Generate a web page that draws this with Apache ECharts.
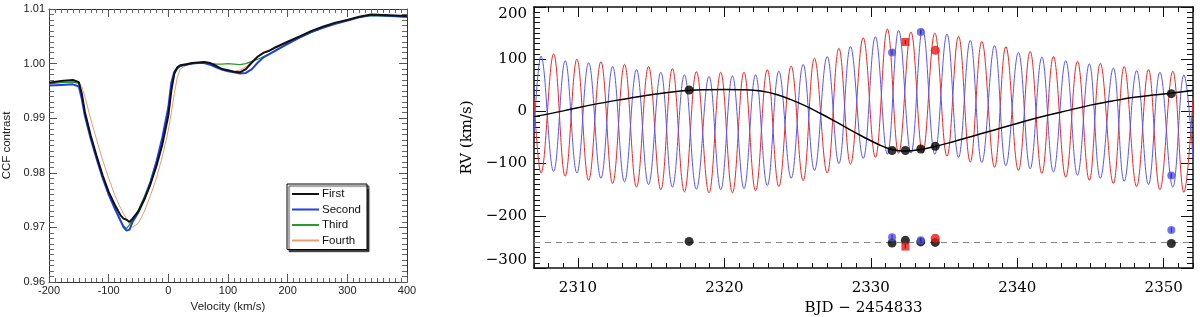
<!DOCTYPE html>
<html><head><meta charset="utf-8">
<script src="https://cdn.jsdelivr.net/npm/echarts@6/dist/echarts.min.js"></script>
<style>html,body{margin:0;padding:0;background:#fff}#c{width:1200px;height:317px}</style>
</head><body><div id="c"></div>
<script>
// ---------- Left panel: CCF profiles ----------
const velocity = [-200,-180,-160,-150,-145,-140,-130,-120,-110,-100,-90,-80,-75,-70,-65,-60,-50,-40,-30,-20,-10,0,5,10,15,20,30,40,50,60,70,80,90,100,110,120,130,140,150,160,170,180,190,200,220,240,260,280,300,320,340,360,380,400];
const ccfFirst = [0.9965,0.9968,0.9970,0.9966,0.9945,0.9912,0.9868,0.9830,0.9795,0.9765,0.9742,0.9722,0.9716,0.9714,0.9710,0.9716,0.9730,0.9752,0.9779,0.9812,0.9852,0.9905,0.9950,0.9982,0.9993,0.9997,0.9999,1.0001,1.0002,1.0003,1.0001,0.9996,0.9990,0.9988,0.9985,0.9984,0.9990,1.0002,1.0013,1.0020,1.0024,1.0030,1.0035,1.0040,1.0050,1.0060,1.0068,1.0075,1.0080,1.0086,1.0090,1.0089,1.0088,1.0087];
const ccfSecond = [0.9960,0.9961,0.9962,0.9958,0.9935,0.9905,0.9862,0.9825,0.9790,0.9760,0.9735,0.9712,0.9700,0.9694,0.9696,0.9710,0.9728,0.9752,0.9782,0.9820,0.9865,0.9920,0.9965,0.9985,0.9992,0.9996,0.9998,1.0000,1.0001,1.0001,0.9998,0.9993,0.9989,0.9986,0.9984,0.9982,0.9983,0.9990,1.0002,1.0012,1.0018,1.0024,1.0030,1.0036,1.0048,1.0058,1.0066,1.0073,1.0079,1.0085,1.0089,1.0088,1.0087,1.0086];
const ccfThird = [0.9963,0.9965,0.9966,0.9964,0.9942,0.9910,0.9866,0.9828,0.9793,0.9762,0.9737,0.9712,0.9703,0.9698,0.9705,0.9714,0.9732,0.9757,0.9785,0.9820,0.9860,0.9910,0.9955,0.9980,0.9990,0.9995,0.9998,1.0000,1.0001,1.0002,1.0001,0.9999,0.9999,1.0000,0.9999,0.9998,1.0000,1.0004,1.0008,1.0013,1.0018,1.0023,1.0030,1.0036,1.0047,1.0057,1.0066,1.0073,1.0079,1.0085,1.0088,1.0087,1.0086,1.0085];
const ccfFourth = [0.9964,0.9966,0.9967,0.9966,0.9958,0.9940,0.9898,0.9860,0.9823,0.9790,0.9760,0.9735,0.9725,0.9716,0.9706,0.9700,0.9708,0.9730,0.9758,0.9790,0.9830,0.9878,0.9910,0.9945,0.9975,0.9990,0.9997,1.0000,1.0001,1.0001,0.9999,0.9994,0.9988,0.9986,0.9986,0.9988,0.9994,1.0004,1.0012,1.0019,1.0023,1.0028,1.0034,1.0039,1.0049,1.0059,1.0067,1.0074,1.0080,1.0086,1.0089,1.0088,1.0087,1.0086];
const ccfNames = ['First','Second','Third','Fourth'];

// ---------- Right panel: RV curves ----------
const redT = [2307.00,2307.48,2308.34,2309.13,2309.93,2310.73,2311.57,2312.37,2313.18,2314.00,2314.82,2315.66,2316.45,2317.27,2318.09,2318.95,2319.75,2320.55,2321.34,2322.13,2322.93,2323.72,2324.56,2325.38,2326.15,2327.02,2327.82,2328.61,2329.48,2330.31,2331.13,2331.90,2332.74,2333.54,2334.37,2335.20,2335.99,2336.79,2337.58,2338.45,2339.22,2340.08,2340.88,2341.68,2342.47,2343.31,2344.11,2344.92,2345.67,2346.56,2347.30,2348.15,2348.96,2349.74,2350.62,2351.38,2352.00];
const redV = [25,-118,110,-124,100,-132,95,-138,90,-145,86,-150,82,-154,76,-156,75,-156,75,-152,80,-144,87,-133,102,-118,121,-101,141,-88,158,-80,152,-80,150,-86,144,-97,134,-107,124,-113,115,-119,105,-126,96,-132,92,-138,86,-144,80,-150,77,-155,25];
const blueT = [2307.00,2307.48,2308.34,2309.13,2309.93,2310.73,2311.57,2312.37,2313.18,2314.00,2314.82,2315.66,2316.45,2317.27,2318.09,2318.95,2319.75,2320.55,2321.34,2322.13,2322.93,2323.72,2324.56,2325.38,2326.15,2327.02,2327.82,2328.61,2329.48,2330.31,2331.13,2331.90,2332.74,2333.54,2334.37,2335.20,2335.99,2336.79,2337.58,2338.45,2339.22,2340.08,2340.88,2341.68,2342.47,2343.31,2344.11,2344.92,2345.67,2346.56,2347.30,2348.15,2348.96,2349.74,2350.62,2351.38,2352.00];
const blueV = [-40,106,-115,97,-118,93,-128,86,-135,80,-140,75,-145,70,-149,67,-150,68,-148,70,-142,77,-128,90,-113,105,-100,124,-90,143,-82,155,-80,158,-82,148,-88,136,-98,126,-104,113,-110,104,-116,97,-122,91,-128,83,-134,78,-140,75,-145,70,-90];
const sysT = [2307.0,2309.0,2311.0,2313.0,2315.0,2317.0,2318.5,2320.0,2321.5,2322.5,2323.5,2324.5,2325.5,2326.5,2327.5,2328.5,2329.5,2330.5,2331.45,2332.4,2333.4,2334.4,2335.5,2336.5,2337.5,2338.5,2339.5,2340.5,2342.0,2343.5,2345.0,2346.5,2348.0,2349.5,2350.5,2352.0];
const sysV = [-10,1,13,23,32,39,41.5,42,41.5,39,33,23,11,-3,-18,-34,-49,-63,-73,-76,-73,-67,-59,-51,-43,-35,-27,-19,-8,2,12,20,27,32,35,40];
const blackObsT = [2317.59,2331.45,2332.36,2333.41,2334.40,2350.52];
const blackObsV = [41,-75,-75,-72,-67,34];
const blackResV = [-249,-252,-247,-250,-251,-253];
const blueObsT = [2331.45,2333.41,2350.52];
const blueObsV = [113,152,-123];
const blueResV = [-241,-247,-227];
const redCircT = [2334.40];
const redCircV = [117];
const redCircRes = [-243];
const redSqT = [2332.36];
const redSqV = [133];
const redSqRes = [-259];
const residualLevel = -250;
const bjdTicks = [2310,2320,2330,2340,2350];

const zip = (a,b) => a.map((v,i)=>[v,b[i]]);

const chart = echarts.init(document.getElementById('c'));

const sansFont = 'Liberation Sans';
const serifFont = 'DejaVu Serif';

function leftX(pos, showLabel) {
  return {
    type:'value', gridIndex:0, position:pos, min:-200, max:400, interval:100,
    axisLine:{show:true, onZero:false, lineStyle:{color:'#333', width:1}},
    axisTick:{show:true, inside:true, length:8, lineStyle:{color:'#555', width:1}},
    minorTick:{show:true, splitNumber:10, length:4, lineStyle:{color:'#666', width:1}},
    splitLine:{show:false},
    axisLabel:{show:showLabel, fontSize:11, color:'#222', fontFamily:sansFont, margin:3},
    name: showLabel ? 'Velocity (km/s)' : '', nameLocation:'middle', nameGap:16,
    nameTextStyle:{fontSize:11.5, color:'#222', fontFamily:sansFont}
  };
}
function leftY(pos, showLabel) {
  return {
    type:'value', gridIndex:0, position:pos, min:0.96, max:1.01, interval:0.01,
    axisLine:{show:true, onZero:false, lineStyle:{color:'#333', width:1}},
    axisTick:{show:true, inside:true, length:8, lineStyle:{color:'#555', width:1}},
    minorTick:{show:true, splitNumber:10, length:5, lineStyle:{color:'#666', width:1}},
    splitLine:{show:false},
    axisLabel:{show:showLabel, fontSize:11, color:'#222', fontFamily:sansFont, margin:4,
      formatter:v=>v.toFixed(2)},
    name: showLabel ? 'CCF contrast' : '', nameLocation:'middle', nameGap:36,
    nameTextStyle:{fontSize:11.5, color:'#222', fontFamily:sansFont}
  };
}
function rightX(pos, major, showLabel) {
  const ax = {
    type:'value', gridIndex:1, position:pos, min:2307, max:2352, interval:1,
    axisLine:{show:!major, onZero:false, lineStyle:{color:'#111', width:1.5}},
    axisTick:{show:true, inside:true, length: major ? 10 : 5, lineStyle:{color:'#111', width:1}},
    splitLine:{show:false},
    axisLabel:{show:showLabel, fontSize:15, color:'#000', fontFamily:serifFont, margin:13,
      customValues: bjdTicks, formatter:v=>String(v)},
    name: showLabel ? 'BJD \u2212 2454833' : '', nameLocation:'middle', nameGap:32,
    nameTextStyle:{fontSize:15, color:'#000', fontFamily:serifFont}
  };
  if (major) ax.axisTick.customValues = bjdTicks;
  return ax;
}
function rightY(pos, showLabel) {
  return {
    type:'value', gridIndex:1, position:pos, min:-300, max:200, interval:100,
    axisLine:{show:true, onZero:false, lineStyle:{color:'#111', width:1.5}},
    axisTick:{show:true, inside:true, length:12, lineStyle:{color:'#111', width:1}},
    minorTick:{show:true, splitNumber:10, length:6, lineStyle:{color:'#111', width:1}},
    splitLine:{show:false},
    axisLabel:{show:showLabel, fontSize:15, color:'#000', fontFamily:serifFont, margin:7,
      verticalAlignMaxLabel:'top', verticalAlignMinLabel:'bottom',
      formatter:v=>String(v).replace('-', '\u2212')},
    name: showLabel ? 'RV (km/s)' : '', nameLocation:'middle', nameGap:58,
    nameTextStyle:{fontSize:15, color:'#000', fontFamily:serifFont}
  };
}

const ccfColors = ['#111111','#1f3fe8','#2a9a2a','#e3a070'];
const ccfWidths = [2,2,1.3,1];
const ccfData = [ccfFirst, ccfSecond, ccfThird, ccfFourth];
const ccfZ = [5,4,3,2];

const series = ccfNames.map((n,i)=>({
  name:n, type:'line', xAxisIndex:0, yAxisIndex:0, data: zip(velocity, ccfData[i]),
  symbol:'none', smooth:false, z:ccfZ[i],
  lineStyle:{color:ccfColors[i], width:ccfWidths[i]}, itemStyle:{color:ccfColors[i]}
}));

series.push(
  {name:'red model', type:'line', xAxisIndex:2, yAxisIndex:2, data:zip(redT, redV), symbol:'none',
    smooth:0.4, lineStyle:{color:'#e42a2a', width:1}, z:2, silent:true},
  {name:'blue model', type:'line', xAxisIndex:2, yAxisIndex:2, data:zip(blueT, blueV), symbol:'none',
    smooth:0.4, lineStyle:{color:'#5a58e8', width:1}, z:2, silent:true},
  {name:'systemic', type:'line', xAxisIndex:2, yAxisIndex:2, data:zip(sysT, sysV), symbol:'none',
    smooth:0.4, lineStyle:{color:'#000', width:1.5}, z:3, silent:true,
    markLine:{silent:true, symbol:'none', label:{show:false},
      lineStyle:{color:'#888', type:[6,5], width:1}, data:[{yAxis:residualLevel}]}},
  {name:'black obs', type:'scatter', xAxisIndex:2, yAxisIndex:2, data:zip(blackObsT, blackObsV),
    symbol:'circle', symbolSize:9, itemStyle:{color:'#000'}, z:5},
  {name:'black res', type:'scatter', xAxisIndex:2, yAxisIndex:2, data:zip(blackObsT, blackResV),
    symbol:'circle', symbolSize:9, itemStyle:{color:'#000'}, z:5},
  {name:'blue obs', type:'scatter', xAxisIndex:2, yAxisIndex:2, data:zip(blueObsT, blueObsV),
    symbol:'circle', symbolSize:8, itemStyle:{color:'#5050f0'}, z:6},
  {name:'blue res', type:'scatter', xAxisIndex:2, yAxisIndex:2, data:zip(blueObsT, blueResV),
    symbol:'circle', symbolSize:8, itemStyle:{color:'#5050f0'}, z:6},
  {name:'red circ obs', type:'scatter', xAxisIndex:2, yAxisIndex:2, data:zip(redCircT, redCircV),
    symbol:'circle', symbolSize:9, itemStyle:{color:'#f01515'}, z:6},
  {name:'red circ res', type:'scatter', xAxisIndex:2, yAxisIndex:2, data:zip(redCircT, redCircRes),
    symbol:'circle', symbolSize:9, itemStyle:{color:'#f01515'}, z:6},
  {name:'red sq obs', type:'scatter', xAxisIndex:2, yAxisIndex:2, data:zip(redSqT, redSqV),
    symbol:'rect', symbolSize:8, itemStyle:{color:'#f01515'}, z:6},
  {name:'red sq res', type:'scatter', xAxisIndex:2, yAxisIndex:2, data:zip(redSqT, redSqRes),
    symbol:'rect', symbolSize:8, itemStyle:{color:'#f01515'}, z:6},
  {name:'blue err', type:'scatter', xAxisIndex:2, yAxisIndex:2,
    data:zip(blueObsT, blueObsV).concat(zip(blueObsT, blueResV)),
    symbol:'rect', symbolSize:[1,5], itemStyle:{color:'#1a1a50'}, z:7, silent:true},
  {name:'red err', type:'scatter', xAxisIndex:2, yAxisIndex:2,
    data:zip(redSqT, redSqV).concat(zip(redSqT, redSqRes)),
    symbol:'rect', symbolSize:[1,4], itemStyle:{color:'#600'}, z:7, silent:true}
);

chart.setOption({
  animation:false,
  backgroundColor:'#fff',
  grid:[
    {left:49, top:9, width:358, height:273, containLabel:false, outerBoundsMode:'none'},
    {left:534, top:7, width:659, height:261, containLabel:false, outerBoundsMode:'none'}
  ],
  legend:{
    data:ccfNames, orient:'vertical', left:287, top:184,
    backgroundColor:'#fff', borderColor:'#000', borderWidth:1, borderRadius:0,
    shadowColor:'rgba(0,0,0,0.75)', shadowOffsetX:2, shadowOffsetY:2, shadowBlur:1,
    padding:[4,6,3,4], itemWidth:27, itemHeight:10, itemGap:3.5,
    itemStyle:{opacity:0},
    textStyle:{fontSize:11.5, color:'#111', fontFamily:sansFont, padding:[0,0,0,-2]}
  },
  xAxis:[
    leftX('bottom', true), leftX('top', false),
    rightX('bottom', false, true), rightX('top', false, false),
    rightX('bottom', true, false), rightX('top', true, false)
  ],
  yAxis:[
    leftY('left', true), leftY('right', false),
    rightY('left', true), rightY('right', false)
  ],
  series: series
});
</script>
</body></html>
